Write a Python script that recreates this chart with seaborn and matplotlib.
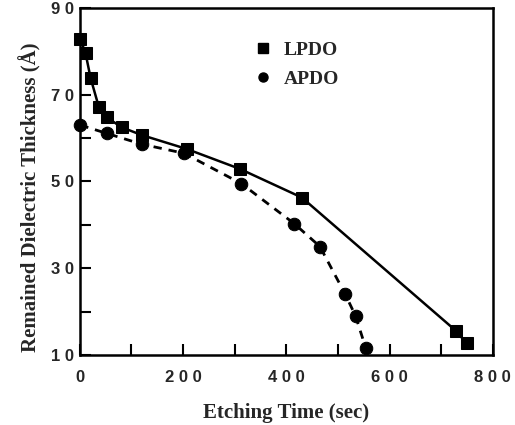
import matplotlib
matplotlib.use("Agg")
import matplotlib.pyplot as plt
import seaborn as sns
import pandas as pd
from matplotlib.lines import Line2D

# Data
lpdo_time = [1, 11, 21, 37, 52, 81, 120, 207, 310, 430, 728, 749]
lpdo_thick = [82.8, 79.6, 73.8, 67.1, 64.8, 62.5, 60.7, 57.5, 52.9, 46.3, 15.6, 12.7]
apdo_time = [1, 52, 120, 202, 313, 415, 465, 514, 534, 554]
apdo_thick = [63.0, 61.1, 58.6, 56.5, 49.5, 40.3, 35.0, 24.0, 19.0, 11.5]

x_ticks = [0, 200, 400, 600, 800]
x_tick_labels = ["0", "2 0 0", "4 0 0", "6 0 0", "8 0 0"]
y_ticks = [10, 30, 50, 70, 90]
y_tick_labels = ["1 0", "3 0", "5 0", "7 0", "9 0"]
series_names = ["LPDO", "APDO"]

sns.set_theme(style="white")
plt.rcParams['font.family'] = ['Liberation Sans', 'DejaVu Sans']

df_l = pd.DataFrame({"t": lpdo_time, "d": lpdo_thick})
df_a = pd.DataFrame({"t": apdo_time, "d": apdo_thick})

fig = plt.figure(figsize=(5.15, 4.25), dpi=100)
ax = fig.add_axes([0.155, 0.165, 0.802, 0.816])

sns.lineplot(data=df_l, x="t", y="d", ax=ax, color="black", lw=1.8,
             marker="s", markersize=9, markeredgecolor="black", sort=False,
             clip_on=False, zorder=5)
sns.lineplot(data=df_a, x="t", y="d", ax=ax, color="black", lw=2.0,
             linestyle=(0, (3, 2.5)), marker="o", markersize=9,
             markeredgecolor="black", sort=False, clip_on=False, zorder=5)

ax.set_xlim(0, 800)
ax.set_ylim(10, 90)
ax.set_xticks(x_ticks)
ax.set_xticklabels(x_tick_labels, fontweight="bold", fontsize=12)
ax.set_yticks(y_ticks)
ax.set_yticklabels(y_tick_labels, fontweight="bold", fontsize=12)
ax.set_xticks([100, 300, 500, 700], minor=True)
ax.set_yticks([20, 40, 60, 80], minor=True)
ax.tick_params(axis="both", which="both", direction="in", length=8, width=1.5,
               color="black", bottom=True, left=True, top=False, right=False)
ax.tick_params(axis="x", which="major", pad=11)
ax.tick_params(axis="y", which="major", pad=4)
for s in ax.spines.values():
    s.set_color("black")
    s.set_linewidth(1.8)

ax.set_xlabel("Etching Time (sec)", family="Liberation Serif", fontweight="bold",
              fontsize=15)
ax.set_ylabel("Remained Dielectric Thickness (Å)", family="Liberation Serif",
              fontweight="bold", fontsize=15)
ax.xaxis.set_label_coords(0.5, -0.14)
ax.yaxis.set_label_coords(-0.093, 0.455)

# Legend: markers only
handles = [Line2D([], [], marker="s", color="black", ls="none", markersize=6.5),
           Line2D([], [], marker="o", color="black", ls="none", markersize=6.5)]
leg = ax.legend(handles, series_names, loc="upper left",
                bbox_to_anchor=(0.353, 0.955), frameon=False, handletextpad=0.1,
                labelspacing=0.6, prop={"family": "Liberation Serif", "weight": "bold", "size": 14})

fig.savefig("out.png", dpi=100)
